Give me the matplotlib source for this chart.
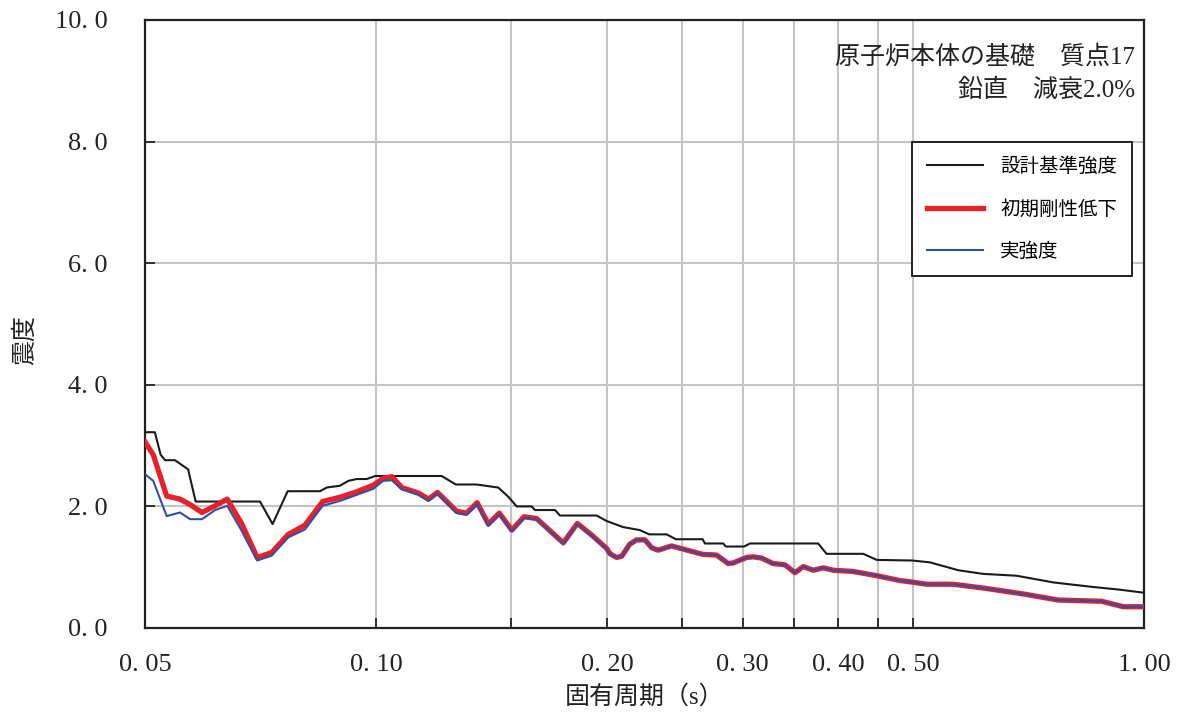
#!/usr/bin/env python3
import matplotlib
matplotlib.use("Agg")
import matplotlib.pyplot as plt
from matplotlib.ticker import FixedLocator, NullFormatter

plt.rcParams['font.family'] = ['Liberation Serif', 'Noto Sans CJK JP', 'DejaVu Sans']

# ====== data ======
# 設計基準強度
period_design = [0.05, 0.0515, 0.0524, 0.0531, 0.0547, 0.0569, 0.0582, 0.0706, 0.0733, 0.0767,
                 0.0845, 0.0862, 0.0897, 0.0920, 0.0943, 0.0972, 0.0997, 0.1217, 0.1270, 0.1352,
                 0.1442, 0.1486, 0.1524, 0.1594, 0.1610, 0.1710, 0.1735, 0.1937, 0.1996, 0.2097,
                 0.2205, 0.2268, 0.2389, 0.2457, 0.2662, 0.2680, 0.2831, 0.2854, 0.3013, 0.3068,
                 0.3764, 0.3860, 0.4309, 0.4487, 0.4990, 0.5262, 0.5730, 0.6173, 0.6822, 0.7617,
                 0.8505, 0.9306, 1.0]
accel_design = [3.22, 3.22, 2.85, 2.76, 2.76, 2.61, 2.08, 2.08, 1.71, 2.25,
                2.25, 2.31, 2.34, 2.42, 2.45, 2.45, 2.50, 2.50, 2.36, 2.36,
                2.31, 2.16, 2.00, 2.00, 1.94, 1.94, 1.85, 1.85, 1.76, 1.66,
                1.61, 1.54, 1.54, 1.46, 1.46, 1.39, 1.39, 1.34, 1.34, 1.39,
                1.39, 1.22, 1.22, 1.12, 1.11, 1.08, 0.95, 0.89, 0.86, 0.75,
                0.68, 0.63, 0.58]

# 初期剛性低下 / 実強度
period = [0.05, 0.05125, 0.05336, 0.05553, 0.05724, 0.0593, 0.06171, 0.06398, 0.0668, 0.06998,
          0.0731, 0.07682, 0.08076, 0.08518, 0.0897, 0.09434, 0.09915, 0.1021, 0.1048, 0.108,
          0.1135, 0.117, 0.1202, 0.1273, 0.1311, 0.1354, 0.14, 0.1447, 0.1502, 0.1558,
          0.1618, 0.1753, 0.1828, 0.1908, 0.1996, 0.2017, 0.2057, 0.2088, 0.2140, 0.2184,
          0.2239, 0.2284, 0.2330, 0.2425, 0.2524, 0.2666, 0.2775, 0.2874, 0.2917, 0.3037,
          0.3098, 0.3176, 0.3289, 0.3406, 0.3511, 0.3600, 0.3709, 0.3822, 0.3938, 0.4180,
          0.4487, 0.4811, 0.4955, 0.5209, 0.5642, 0.6236, 0.6961, 0.7731, 0.8806, 0.9396,
          1.0]
accel_stiff = [3.06, 2.85, 2.17, 2.12, 2.03, 1.90, 2.01, 2.12, 1.72, 1.16,
               1.24, 1.54, 1.69, 2.08, 2.15, 2.24, 2.35, 2.46, 2.49, 2.31,
               2.22, 2.12, 2.23, 1.92, 1.89, 2.06, 1.71, 1.89, 1.61, 1.83,
               1.80, 1.40, 1.72, 1.53, 1.31, 1.22, 1.16, 1.18, 1.38, 1.45,
               1.45, 1.32, 1.28, 1.35, 1.29, 1.21, 1.20, 1.06, 1.07, 1.16,
               1.17, 1.15, 1.06, 1.04, 0.91, 1.01, 0.95, 0.99, 0.95, 0.93,
               0.86, 0.78, 0.76, 0.72, 0.72, 0.65, 0.56, 0.46, 0.44, 0.35,
               0.35]
accel_real = [2.53, 2.42, 1.84, 1.90, 1.79, 1.79, 1.94, 2.01, 1.60, 1.11,
              1.19, 1.49, 1.62, 2.01, 2.09, 2.19, 2.29, 2.42, 2.43, 2.28,
              2.19, 2.09, 2.21, 1.89, 1.86, 2.04, 1.68, 1.87, 1.59, 1.81,
              1.79, 1.39, 1.71, 1.52, 1.30, 1.21, 1.16, 1.18, 1.38, 1.45,
              1.45, 1.32, 1.28, 1.35, 1.29, 1.21, 1.20, 1.06, 1.07, 1.16,
              1.17, 1.15, 1.06, 1.04, 0.91, 1.01, 0.95, 0.99, 0.95, 0.93,
              0.86, 0.78, 0.76, 0.72, 0.72, 0.65, 0.56, 0.46, 0.44, 0.35,
              0.35]

xticks_major = [0.05, 0.10, 0.20, 0.30, 0.40, 0.50, 1.00]
xtick_labels = ['0. 05', '0. 10', '0. 20', '0. 30', '0. 40', '0. 50', '1. 00']
xticks_minor = [0.15, 0.25, 0.35, 0.45]
yticks = [0, 2, 4, 6, 8, 10]
ytick_labels = ['0. 0', '2. 0', '4. 0', '6. 0', '8. 0', '10. 0']


def plot():
    fig = plt.figure(figsize=(11.8, 7.18), dpi=100)
    ax = fig.add_axes([145 / 1180, 1 - 628 / 718, (1144 - 145) / 1180, (628 - 20) / 718])

    ax.plot(period_design, accel_design, color='#1a1a1a', lw=1.5, label='設計基準強度', zorder=3)
    ax.plot(period, accel_stiff, color='#e8202a', lw=3.8, label='初期剛性低下', zorder=4)
    ax.plot(period, accel_real, color='#2f4fa8', lw=1.5, label='実強度', zorder=5)

    ax.set_xscale('log')
    ax.set_xlim(0.05, 1.0)
    ax.set_ylim(0, 10)

    ax.xaxis.set_major_locator(FixedLocator(xticks_major))
    ax.xaxis.set_minor_locator(FixedLocator(xticks_minor))
    ax.xaxis.set_minor_formatter(NullFormatter())
    ax.set_xticklabels(xtick_labels)
    ax.set_yticks(yticks)
    ax.set_yticklabels(ytick_labels)

    ax.tick_params(axis='both', which='both', direction='in', length=7, width=1.3,
                   color='#222222', labelsize=19, labelcolor='#222222')
    ax.tick_params(axis='x', which='major', pad=19)
    ax.tick_params(axis='y', which='major', pad=27)

    ax.grid(True, which='both', color='#c4c4c4', lw=1.5, zorder=1)
    ax.set_axisbelow(True)
    for s in ax.spines.values():
        s.set_linewidth(1.6)
        s.set_color('#222222')

    ax.set_xlabel('固有周期（s）', fontsize=18, color='#222222', labelpad=6)
    ax.set_ylabel('震度', fontsize=18, color='#222222')
    ax.yaxis.set_label_coords(-0.108, 0.474)

    ax.text(0.991, 0.960, '原子炉本体の基礎　質点17\n鉛直　減衰2.0%', transform=ax.transAxes,
            ha='right', va='top', fontsize=18, color='#222222', linespacing=1.55)

    leg = ax.legend(loc='upper right', bbox_to_anchor=(0.988, 0.799), fontsize=14,
                    frameon=True, fancybox=False, edgecolor='#111111', framealpha=1,
                    handlelength=2.9, labelspacing=1.25, borderpad=0.75, handletextpad=0.9,
                    borderaxespad=0)
    leg.get_frame().set_linewidth(1.3)

    fig.savefig('out.png', dpi=100)


def main():
    plot()


if __name__ == '__main__':
    main()
